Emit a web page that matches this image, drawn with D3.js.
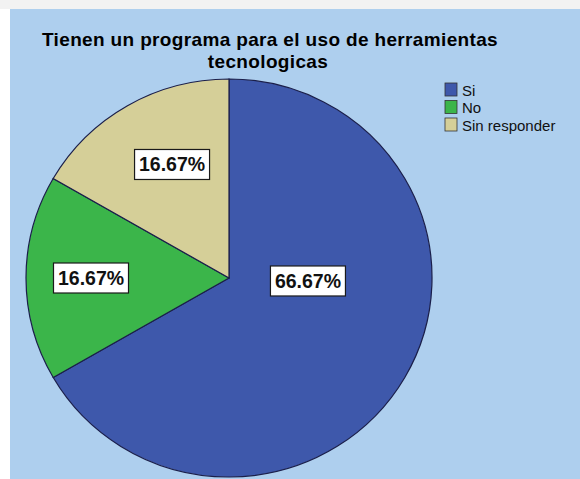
<!DOCTYPE html>
<html>
<head>
<meta charset="utf-8">
<script src="https://cdn.jsdelivr.net/npm/d3@7"></script>
<style>
  html, body { margin: 0; padding: 0; background: #ffffff; }
  svg { display: block; }
</style>
</head>
<body>
<svg id="chart" width="580" height="479"></svg>
<script>
// ---- data ----
const categories = ["Si", "No", "Sin responder"];
const values = [66.67, 16.67, 16.67];
const labels = ["66.67%", "16.67%", "16.67%"];
const colors = ["#3e58ab", "#3bb54a", "#d5cf98"];
const title = ["Tienen un programa para el uso de herramientas", "tecnologicas"];

// ---- layout ----
const W = 580, H = 479;
const cx = 229, cy = 278, R = 201;
const sx = 203 / 201, sy = 199 / 201;
// label placement: radius and angle (radians, clockwise from 12 o'clock)
const labelPlace = [
  { r: 79, a: Math.PI * 0.512 },
  { r: 138, a: Math.PI * 1.5 },
  { r: 127, a: Math.PI * 1.852 }
];

const svg = d3.select("#chart");

// page background: light strip at top, white at left
svg.append("rect").attr("x", 0).attr("y", 0).attr("width", W).attr("height", H).attr("fill", "#ffffff");
svg.append("rect").attr("x", 0).attr("y", 0).attr("width", W).attr("height", 9).attr("fill", "#f2f2f2");
svg.append("rect").attr("x", 10).attr("y", 9).attr("width", W - 10).attr("height", H - 9).attr("fill", "#aecfee");

// title
const titleG = svg.append("g")
  .attr("font-family", "Liberation Sans, Arial, sans-serif")
  .attr("font-weight", "bold")
  .attr("font-size", 19)
  .attr("letter-spacing", "0.35px")
  .attr("fill", "#000")
  .attr("text-anchor", "middle");
titleG.append("text").attr("x", 270).attr("y", 46).text(title[0]);
titleG.append("text").attr("x", 268).attr("y", 67.5).text(title[1]);

// pie
const pie = d3.pie().sort(null).value(d => d)(values);
const arc = d3.arc().innerRadius(0).outerRadius(R);
const g = svg.append("g").attr("transform", `translate(${cx},${cy})`);
g.append("g").attr("transform", `scale(${sx},${sy})`)
  .selectAll("path.slice")
  .data(pie)
  .join("path")
  .attr("class", "slice")
  .attr("d", arc)
  .attr("fill", (d, i) => colors[i])
  .attr("stroke", "#1b1f4a")
  .attr("stroke-width", 1.2);

// labels
const lg = g.selectAll("g.lbl")
  .data(pie)
  .join("g")
  .attr("class", "lbl")
  .attr("transform", (d, i) => {
    const p = labelPlace[i];
    return `translate(${p.r * Math.sin(p.a)},${-p.r * Math.cos(p.a)})`;
  });
lg.append("rect")
  .attr("x", -37.5).attr("y", -15)
  .attr("width", 75).attr("height", 30)
  .attr("fill", "#ffffff")
  .attr("stroke", "#1a1a1a")
  .attr("stroke-width", 1.2);
lg.append("text")
  .attr("text-anchor", "middle")
  .attr("y", 7)
  .attr("font-family", "Liberation Sans, Arial, sans-serif")
  .attr("font-weight", "bold")
  .attr("font-size", 19.5)
  .attr("fill", "#111")
  .text((d, i) => labels[i]);

// legend
const leg = svg.append("g").attr("transform", "translate(445,83)");
const items = leg.selectAll("g").data(categories).join("g")
  .attr("transform", (d, i) => `translate(0,${i * 17.5})`);
items.append("rect")
  .attr("width", 12).attr("height", 13)
  .attr("fill", (d, i) => colors[i])
  .attr("stroke", "#333")
  .attr("stroke-width", 0.8);
items.append("text")
  .attr("x", 17).attr("y", 12.5)
  .attr("font-family", "Liberation Sans, Arial, sans-serif")
  .attr("font-size", 15)
  .attr("fill", "#111")
  .text(d => d);
</script>
</body>
</html>
